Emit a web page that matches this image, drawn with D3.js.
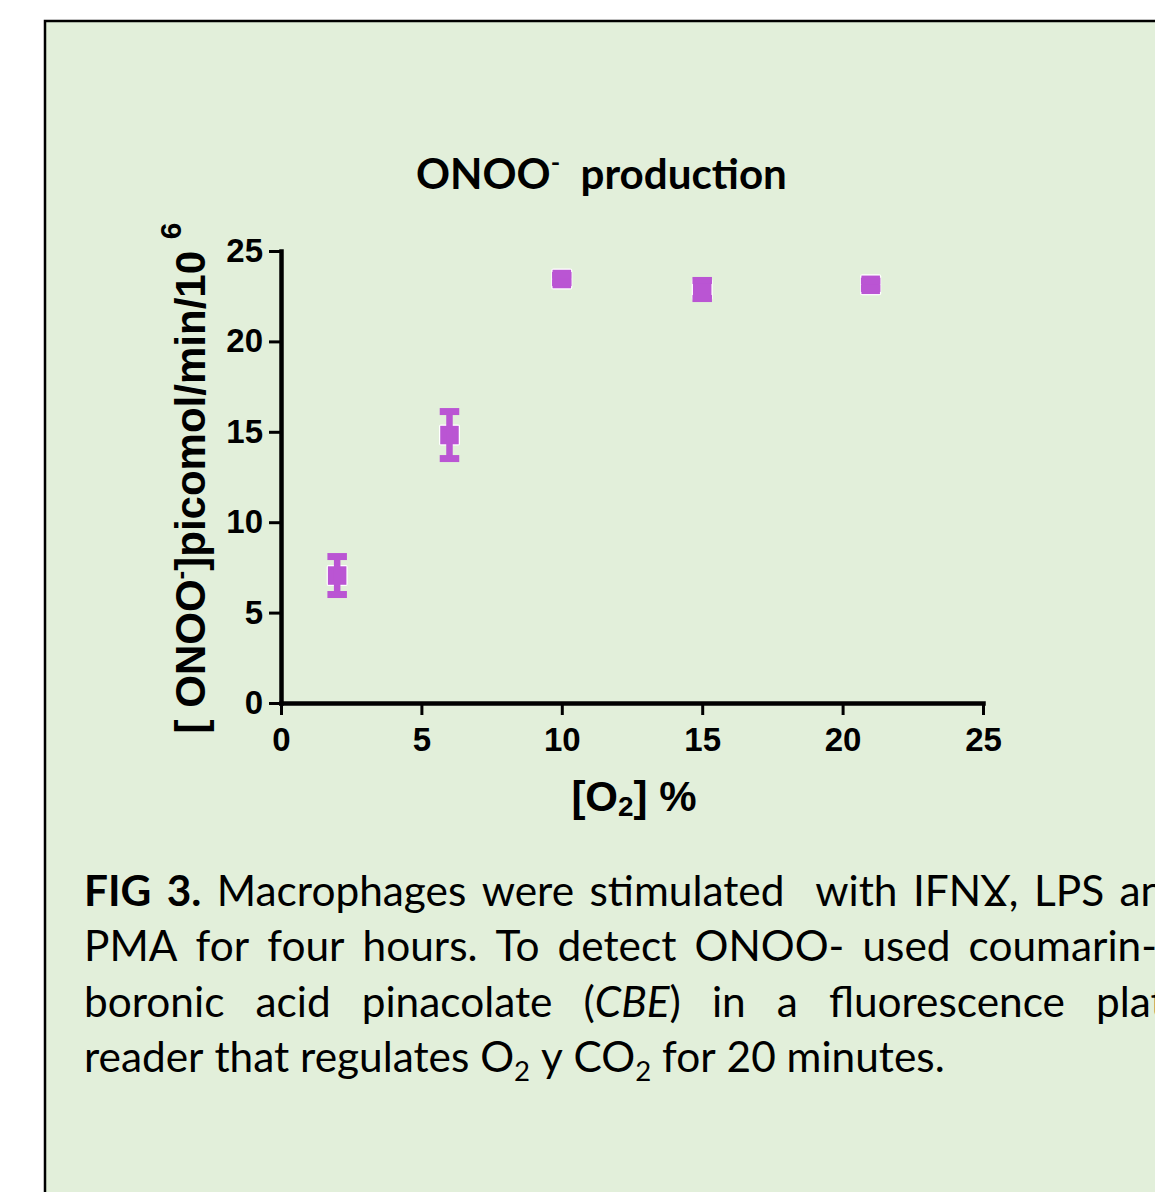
<!DOCTYPE html>
<html><head><meta charset="utf-8">
<script src="https://cdn.jsdelivr.net/npm/d3@7"></script>
<style>html,body{margin:0;padding:0;background:#fff;overflow:hidden}</style>
</head><body><svg id="c" width="1155" height="1192"></svg>
<script>
// ---- data ----
const xValues = [2, 6, 10, 15, 21];
const yMeans = [7.05, 14.82, 23.45, 22.87, 23.13];
const yErrors = [1.05, 1.3, 0.2, 0.5, 0.2];
const xTickValues = [0, 5, 10, 15, 20, 25];
const yTickValues = [0, 5, 10, 15, 20, 25];
const titleParts = ["ONOO", "-", "  production"];
const yLabelParts = ["[ ONOO", "-", "]picomol/min/10 ", "6"];
const xLabelParts = ["[O", "2", "] %"];
const captionLines = [
  "**FIG** **3.** Macrophages were stimulated  with IFNƔ, LPS and",
  "PMA for four hours. To detect ONOO- used coumarin-",
  "boronic acid pinacolate (_CBE_) in a fluorescence plate",
  "reader that regulates O~2~ y CO~2~ for 20 minutes."
];
const captionJustify = [true, true, true, false];

// ---- setup ----
const svg = d3.select("#c");
const axisFont = "'Liberation Sans', Arial, sans-serif";
const capFont = "Lato, 'Open Sans', sans-serif";

svg.append("rect").attr("x", 45).attr("y", 21).attr("width", 1300).attr("height", 1300)
  .attr("fill", "#E2EFDA").attr("stroke", "#000").attr("stroke-width", 2.5);

const x = d3.scaleLinear().domain([0, 25]).range([281, 983]);
const y = d3.scaleLinear().domain([0, 25]).range([703, 251]);

// ---- axes ----
const gx = svg.append("g").attr("transform", `translate(0,${y(0)})`)
  .call(d3.axisBottom(x).tickValues(xTickValues).tickSize(12).tickSizeOuter(0).tickPadding(13).tickFormat(d3.format("d")));
const gy = svg.append("g").attr("transform", `translate(${x(0)},0)`)
  .call(d3.axisLeft(y).tickValues(yTickValues).tickSize(12).tickSizeOuter(0).tickPadding(6).tickFormat(d3.format("d")));
[gx, gy].forEach(g => {
  g.select(".domain").attr("stroke", "#000").attr("stroke-width", 4.5).attr("stroke-linecap", "square");
  g.selectAll(".tick line").attr("stroke", "#000").attr("stroke-width", 3);
  g.selectAll(".tick text").attr("fill", "#000")
    .style("font-family", axisFont).style("font-weight", "bold").style("font-size", "33px");
});

// ---- points ----
const pts = xValues.map((v, i) => ({ x: v, m: yMeans[i], e: yErrors[i] }));
const color = "#BA55D3";
const ms = 18.5, outline = 21;
const mk = svg.append("g");
mk.selectAll("rect.o").data(pts).join("rect").attr("class", "o")
  .attr("x", d => x(d.x) - outline / 2).attr("y", d => y(d.m) - outline / 2)
  .attr("width", outline).attr("height", outline).attr("rx", 2).attr("fill", "#fff");
mk.selectAll("rect.i").data(pts).join("rect").attr("class", "i")
  .attr("x", d => x(d.x) - ms / 2).attr("y", d => y(d.m) - ms / 2)
  .attr("width", ms).attr("height", ms).attr("fill", color);
const eb = svg.append("g");
eb.selectAll("line").data(pts).join("line")
  .attr("x1", d => x(d.x)).attr("x2", d => x(d.x))
  .attr("y1", d => y(d.m - d.e)).attr("y2", d => y(d.m + d.e))
  .attr("stroke", color).attr("stroke-width", 6.5);
const capW = 19.5, capH = 7;
eb.selectAll("rect.top").data(pts).join("rect").attr("class", "top")
  .attr("x", d => x(d.x) - capW / 2).attr("y", d => y(d.m + d.e) - capH / 2)
  .attr("width", capW).attr("height", capH).attr("fill", color);
eb.selectAll("rect.bot").data(pts).join("rect").attr("class", "bot")
  .attr("x", d => x(d.x) - capW / 2).attr("y", d => y(d.m - d.e) - capH / 2)
  .attr("width", capW).attr("height", capH).attr("fill", color);

// ---- title ----
function drawTitle(s) {
  const t = svg.append("text").attr("x", 416).attr("y", 189)
    .style("font-family", capFont).style("font-weight", "bold").style("font-size", s + "px")
    .style("white-space", "pre").attr("fill", "#000");
  t.append("tspan").text(titleParts[0]);
  t.append("tspan").attr("dy", -0.42 * s).style("font-size", (0.6 * s) + "px").text(titleParts[1]);
  t.append("tspan").attr("dy", 0.42 * s).text(titleParts[2]);
  return t;
}
let tt = drawTitle(40);
const tw = tt.node().getComputedTextLength();
tt.remove();
drawTitle(40 * 371 / tw);

// ---- y label ----
const yl = svg.append("text").attr("transform", "translate(205,478) rotate(-90)")
  .attr("text-anchor", "middle").style("font-family", axisFont).style("font-weight", "bold")
  .style("font-size", "42px").style("white-space", "pre").attr("fill", "#000");
yl.append("tspan").text(yLabelParts[0]);
yl.append("tspan").attr("dy", -16).style("font-size", "26px").text(yLabelParts[1]);
yl.append("tspan").attr("dy", 16).text(yLabelParts[2]);
yl.append("tspan").attr("dy", -24).style("font-size", "30px").text(yLabelParts[3]);

// ---- x label ----
const xl = svg.append("text").attr("x", 634).attr("y", 811).attr("text-anchor", "middle")
  .style("font-family", axisFont).style("font-weight", "bold").style("font-size", "42px")
  .style("white-space", "pre").attr("fill", "#000");
xl.append("tspan").text(xLabelParts[0]);
xl.append("tspan").attr("dy", 5).style("font-size", "28px").text(xLabelParts[1]);
xl.append("tspan").attr("dy", -5).text(xLabelParts[2]);

// ---- caption ----
function parseWord(w) {
  const segs = [];
  const re = /\*\*([^*]+)\*\*|_([^_]+)_|~([^~]+)~|([^*_~]+)/g;
  let m;
  while ((m = re.exec(w))) {
    if (m[1]) segs.push({ t: m[1], b: true });
    else if (m[2]) segs.push({ t: m[2], i: true });
    else if (m[3]) segs.push({ t: m[3], sub: true });
    else segs.push({ t: m[4] });
  }
  return segs;
}
function drawWord(g, segs, s, px, py) {
  const t = g.append("text").attr("x", px).attr("y", py)
    .style("font-family", capFont).style("font-size", s + "px").attr("fill", "#000");
  let shift = 0;
  segs.forEach(sg => {
    const sp = t.append("tspan").text(sg.t);
    if (sg.b) sp.style("font-weight", "bold");
    if (sg.i) sp.style("font-style", "italic");
    if (sg.sub) {
      sp.style("font-size", (0.65 * s) + "px").attr("dy", 0.2 * s - shift);
      shift = 0.2 * s;
    } else if (shift) { sp.attr("dy", -shift); shift = 0; }
  });
  return t;
}
const lineRight = [1188, 1157, 1188, 0];
function layout(s, draw) {
  const g = svg.append("g");
  const sp1 = g.append("text").style("font-family", capFont).style("font-size", s + "px").style("white-space", "pre").text("a a");
  const sp2 = g.append("text").style("font-family", capFont).style("font-size", s + "px").text("aa");
  const spaceW = sp1.node().getComputedTextLength() - sp2.node().getComputedTextLength();
  sp1.remove(); sp2.remove();
  const L = 84, base0 = 906, lh = 55.4;
  let lastW = 0;
  captionLines.forEach((line, li) => {
    const toks = line.split(" ");
    const words = []; let w = 0;
    toks.forEach(tk => {
      if (tk === "") { w += 1; return; }
      words.push({ segs: parseWord(tk), gap: words.length ? w + 1 : 0 });
      w = 0;
    });
    const py = base0 + li * lh;
    words.forEach(wd => { wd.el = drawWord(g, wd.segs, s, 0, py); wd.w = wd.el.node().getComputedTextLength(); });
    const sumW = d3.sum(words, d => d.w), sumG = d3.sum(words, d => d.gap);
    const gap = captionJustify[li] ? (lineRight[li] - L - sumW) / sumG : spaceW;
    let cx = L;
    words.forEach(wd => { cx += wd.gap * gap; wd.el.attr("x", cx); cx += wd.w; });
    if (li === captionLines.length - 1) lastW = cx - L;
  });
  if (!draw) g.remove();
  return lastW;
}
const w40 = layout(40, false);
layout(40 * 861 / w40, true);
</script></body></html>
